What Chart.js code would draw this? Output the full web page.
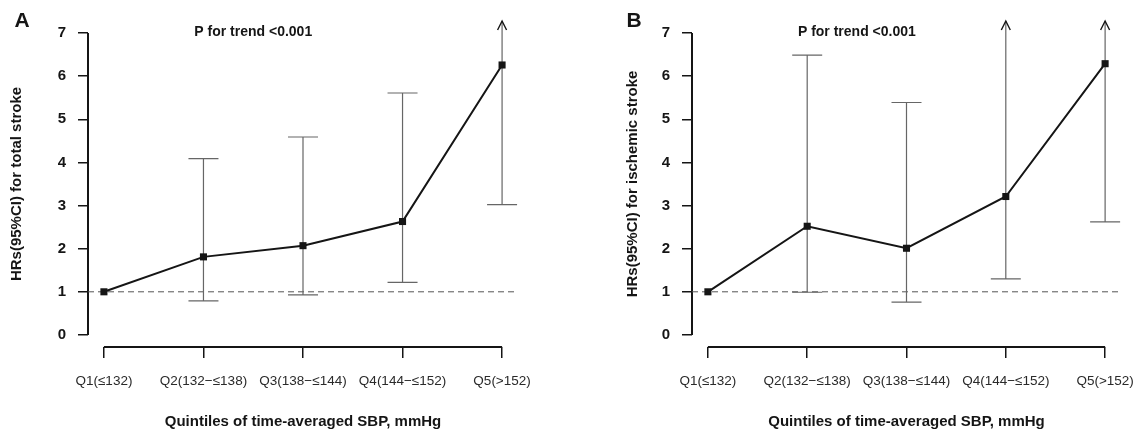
<!DOCTYPE html>
<html>
<head>
<meta charset="utf-8">
<title>HRs by quintiles of time-averaged SBP</title>
<script src="https://cdn.jsdelivr.net/npm/chart.js@4.4.1/dist/chart.umd.min.js"></script>
<style>
    html, body { margin: 0; padding: 0; background: #fff; }
    #wrap { position: relative; width: 1135px; height: 432px; }
    canvas { position: absolute; top: 0; }
</style>
</head>
<body>
<div id="wrap">
    <canvas id="chartA" width="560" height="432" style="left:0"></canvas>
    <canvas id="chartB" width="575" height="432" style="left:560px"></canvas>
</div>
<script>
const categories = ['Q1(≤132)', 'Q2(132−≤138)', 'Q3(138−≤144)', 'Q4(144−≤152)', 'Q5(>152)'];
const yTicks = [0, 1, 2, 3, 4, 5, 6, 7];

// Panel A - total stroke (Q1 is the reference group, no CI)
// Infinity = upper limit off the scale, drawn as an arrow
const hrTotal = [1.0, 1.81, 2.07, 2.63, 6.26];
const lowTotal = [null, 0.79, 0.93, 1.22, 3.02];
const highTotal = [null, 4.09, 4.59, 5.61, Infinity];

// Panel B - ischemic stroke
const hrIsch = [1.0, 2.52, 2.01, 3.21, 6.29];
const lowIsch = [null, 0.99, 0.76, 1.30, 2.62];
const highIsch = [null, 6.49, 5.39, Infinity, Infinity];

const FONT = "'Liberation Sans', Arial, Helvetica, sans-serif";
const INK = '#151515';

const hrDecor = {
    id: 'hrDecor',
    beforeDatasetsDraw(chart, args, opts) {
        const { ctx, chartArea } = chart;
        const x = chart.scales.x;
        const y = chart.scales.y;
        ctx.save();

        // R style axes: only span first to last tick
        ctx.strokeStyle = INK;
        ctx.lineWidth = 2;
        ctx.beginPath();
        ctx.moveTo(chartArea.left, y.getPixelForValue(yTicks[0]));
        ctx.lineTo(chartArea.left, y.getPixelForValue(yTicks[yTicks.length - 1]));
        ctx.moveTo(x.getPixelForValue(0), chartArea.bottom);
        ctx.lineTo(x.getPixelForValue(categories.length - 1), chartArea.bottom);
        ctx.stroke();

        // reference line at HR = 1
        const y1 = y.getPixelForValue(1);
        ctx.setLineDash([6, 4]);
        ctx.lineWidth = 1;
        ctx.strokeStyle = '#555';
        ctx.beginPath();
        ctx.moveTo(chartArea.left, y1);
        ctx.lineTo(chartArea.right, y1);
        ctx.stroke();
        ctx.setLineDash([]);

        // confidence intervals
        opts.low.forEach((lo, i) => {
            if (lo == null) return;
            const hi = opts.high[i];
            const open = !isFinite(hi);
            const px = x.getPixelForValue(i);
            const pLo = y.getPixelForValue(lo);
            const pHi = y.getPixelForValue(open ? y.max : hi);
            const cap = 15;

            ctx.strokeStyle = '#666';
            ctx.lineWidth = 1.2;
            ctx.beginPath();
            ctx.moveTo(px, pLo);
            ctx.lineTo(px, pHi);
            ctx.moveTo(px - cap, pLo);
            ctx.lineTo(px + cap, pLo);
            if (!open) {
                ctx.moveTo(px - cap, pHi);
                ctx.lineTo(px + cap, pHi);
            }
            ctx.stroke();

            if (open) {
                ctx.strokeStyle = INK;
                ctx.lineWidth = 1.4;
                ctx.beginPath();
                ctx.moveTo(px - 4.5, pHi + 9);
                ctx.lineTo(px, pHi);
                ctx.lineTo(px + 4.5, pHi + 9);
                ctx.stroke();
            }
        });
        ctx.restore();
    },
    afterDraw(chart, args, opts) {
        const { ctx } = chart;
        const x = chart.scales.x;
        const y = chart.scales.y;
        ctx.save();
        ctx.fillStyle = INK;
        ctx.textAlign = 'center';
        ctx.textBaseline = 'middle';

        ctx.font = 'bold 21px ' + FONT;
        ctx.fillText(opts.letter, opts.letterX, 21);

        ctx.font = 'bold 14px ' + FONT;
        ctx.fillText('P for trend <0.001', x.getPixelForValue(1.5), y.getPixelForValue(7) - 1);
        ctx.restore();
    }
};

function makePanel(canvasId, panel) {
    const ctx = document.getElementById(canvasId).getContext('2d');
    return new Chart(ctx, {
        type: 'line',
        data: {
            datasets: [{
                data: panel.hr.map((v, i) => ({ x: i, y: v })),
                borderColor: INK,
                borderWidth: 2,
                tension: 0,
                pointStyle: 'rect',
                pointRadius: 5,
                pointBackgroundColor: INK,
                pointBorderWidth: 0
            }]
        },
        options: {
            responsive: false,
            animation: false,
            events: [],
            layout: {
                padding: { top: 17.8, right: panel.padRight, bottom: 0, left: 0 }
            },
            plugins: {
                legend: { display: false },
                tooltip: { enabled: false },
                hrDecor: {
                    low: panel.low,
                    high: panel.high,
                    letter: panel.letter,
                    letterX: panel.letterX
                }
            },
            scales: {
                x: {
                    type: 'linear',
                    min: -0.16,
                    max: categories.length - 1 + 0.16,
                    afterBuildTicks: s => { s.ticks = categories.map((c, i) => ({ value: i })); },
                    afterFit: s => {
                        s.height = 85;
                        // labels may overhang the plot edge, keep the plot width fixed
                        s.paddingLeft = 0;
                        s.paddingRight = 0;
                    },
                    grid: { drawOnChartArea: false, tickLength: 11, color: INK, lineWidth: 1.5 },
                    border: { display: false },
                    ticks: {
                        padding: 15,
                        maxRotation: 0,
                        autoSkip: false,
                        color: '#2a2a2a',
                        font: { family: FONT, size: 13.5 },
                        callback: v => categories[v]
                    },
                    title: {
                        display: true,
                        text: 'Quintiles of time-averaged SBP, mmHg',
                        color: INK,
                        font: { family: FONT, size: 15, weight: 'bold' },
                        padding: { top: 0, bottom: 1 }
                    }
                },
                y: {
                    type: 'linear',
                    min: -0.28,
                    max: 7.28,
                    afterBuildTicks: s => { s.ticks = yTicks.map(v => ({ value: v })); },
                    afterFit: s => { s.width = panel.yWidth; },
                    grid: { drawOnChartArea: false, tickLength: 10, color: INK, lineWidth: 1.5 },
                    border: { display: false },
                    ticks: {
                        padding: 12,
                        color: INK,
                        font: { family: FONT, size: 15, weight: 'bold' },
                        callback: v => String(v)
                    },
                    title: {
                        display: true,
                        text: panel.yTitle,
                        color: INK,
                        font: { family: FONT, size: 15, weight: 'bold' },
                        padding: { top: panel.titlePad, bottom: 0 }
                    }
                }
            }
        },
        plugins: [hrDecor]
    });
}

makePanel('chartA', {
    hr: hrTotal, low: lowTotal, high: highTotal,
    yTitle: 'HRs(95%CI) for total stroke',
    letter: 'A', letterX: 22,
    yWidth: 88, titlePad: 8, padRight: 42
});

makePanel('chartB', {
    hr: hrIsch, low: lowIsch, high: highIsch,
    yTitle: 'HRs(95%CI) for ischemic stroke',
    letter: 'B', letterX: 74,
    yWidth: 132, titlePad: 64, padRight: 14
});
</script>
</body>
</html>
